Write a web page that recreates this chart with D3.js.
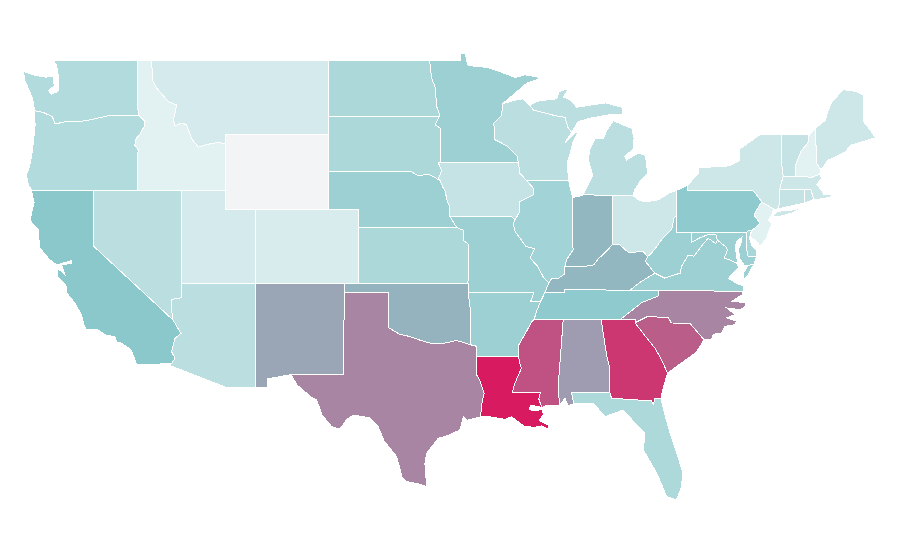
<!DOCTYPE html>
<html>
<head>
<meta charset="utf-8">
<style>
  body { margin: 0; background: #fff; }
  svg { display: block; }
  .state { stroke: #fff; stroke-width: 1; shape-rendering: crispEdges; }
</style>
<script src="https://cdn.jsdelivr.net/npm/d3@7"></script>
</head>
<body>
<svg id="map"></svg>
<script>
// state values (0 = palest, 100 = deepest red)
var stateNames = ["WA","OR","CA","NV","ID","MT","WY","UT","AZ","CO","NM","ND","SD","NE","KS","OK","TX","MN","IA","MO","AR","LA","WI","IL","MS","MI","IN","KY","TN","AL","FL","GA","SC","NC","VA","WV","OH","PA","MD","DE","NJ","NY","CT","RI","MA","VT","NH","ME"];
var stateValues = [31,31,50,27,8,15,0,15,27,13,60,34,34,42,34,56,69,42,22,42,42,100,27,39,84,27,55,55,48,63,33,92,81,69,42,42,18,48,42,36,8,18,22,22,18,22,8,18];

var colorStops = [0, 8, 50, 100];
var colorRange = ["#f3f4f6", "#e2f1f2", "#8bc8cc", "#d81b60"];

// shared borders, lon/lat
var snake = [[-117.03,43.83],[-116.95,44.15],[-117.2,44.4],[-117.1,44.75],[-116.85,45.0],[-116.56,45.4],[-116.5,45.67],[-116.84,45.94],[-116.92,46.0]];
var columbia = [[-116.92,46.0],[-118.98,46.0],[-119.3,45.93],[-120.03,45.8],[-120.5,45.72],[-121.2,45.65],[-121.93,45.66],[-122.6,45.54],[-122.78,45.93],[-123.4,46.17],[-123.85,46.24],[-124.0,46.27]];
var idMt = [[-111.05,44.48],[-111.54,44.55],[-112.32,44.44],[-112.89,44.3],[-113.35,44.75],[-113.68,45.49],[-114.0,45.6],[-114.47,45.43],[-114.58,45.76],[-114.35,46.57],[-114.92,46.75],[-115.7,47.47],[-116.0,47.92],[-116.05,49]];
var redA = [[-97.23,49],[-97.08,48.0],[-96.85,47.55],[-96.74,46.47],[-96.58,46.12],[-96.58,45.94]];
var redB = [[-96.58,45.94],[-96.86,45.49],[-96.45,45.3],[-96.45,43.5]];
var sdIa = [[-96.45,43.5],[-96.63,43.45],[-96.4,43.05],[-96.63,42.6],[-96.5,42.5]];
var neTop = [[-104.05,43],[-98.5,43],[-98.0,42.78],[-97.3,42.85],[-96.8,42.65],[-96.5,42.5]];
var moUpper = [[-96.5,42.5],[-96.35,42.2],[-96.18,41.97],[-96.05,41.5],[-95.85,41.07],[-95.85,40.6]];
var moMid = [[-95.85,40.6],[-95.38,40]];
var moLower = [[-95.38,40],[-94.94,39.85],[-94.94,39.3],[-94.6,39.1]];
var missMnWi = [[-92.8,44.7],[-91.99,44.37],[-91.3,43.84],[-91.22,43.5]];
var missIaWi = [[-91.22,43.5],[-91.1,42.9],[-90.64,42.51]];
var missIaIl = [[-90.64,42.51],[-90.2,42.12],[-90.2,41.75],[-91.1,41.39],[-91.1,40.9],[-91.43,40.4]];
var missMoIl = [[-91.43,40.4],[-91.55,40.2],[-91.44,39.8],[-90.7,38.98],[-90.1,38.85],[-90.42,38.35],[-89.95,37.95],[-89.5,37.3],[-89.15,37.0]];
var mnWi = [[-92.8,44.7],[-92.8,45.3],[-92.9,45.56],[-92.33,46.0],[-92.29,46.65]];
var wiMi = [[-87.6,45.1],[-87.85,45.35],[-88.05,45.9],[-88.72,45.99],[-90.2,46.3],[-90.45,46.57]];
var ohioWv = [[-80.52,40.64],[-80.66,40.52],[-80.82,39.9],[-81.5,39.35],[-81.85,38.95],[-82.2,38.6],[-82.45,38.43]];
var ohioKy = [[-82.45,38.43],[-82.75,38.7],[-83.75,38.65],[-84.35,39.07],[-84.82,39.1]];
var ohioIn = [[-84.82,39.1],[-85.2,38.75],[-85.8,38.3],[-86.1,37.98],[-86.7,37.9],[-87.25,37.9],[-88.05,37.9]];
var ohioLow = [[-88.05,37.9],[-88.05,37.5],[-88.5,37.25],[-88.95,37.25],[-89.15,37.0]];
var wabash = [[-87.53,39.35],[-87.5,38.8],[-87.95,38.25],[-88.05,37.9]];
var riverTn = [[-90.15,35],[-89.95,35.5],[-89.7,36.0],[-89.4,36.5]];
var missAr = [[-91.2,33.0],[-91.2,33.6],[-90.7,34.3],[-90.3,34.9],[-90.15,35]];
var missLa = [[-91.62,31],[-91.5,31.4],[-91.3,31.82],[-91.0,32.35],[-91.1,32.6],[-91.2,33.0]];
var redRiver = [[-100,34.56],[-99.23,34.2],[-98.55,34.08],[-97.87,33.88],[-97.1,33.7],[-96.3,33.7],[-95.4,33.87],[-94.48,33.64]];
var sabine = [[-94.04,33],[-94.04,32],[-93.8,31.65],[-93.52,30.98],[-93.7,30.35],[-93.76,29.66]];
var colNv = [[-114.04,36.2],[-114.7,36.1],[-114.7,35.6],[-114.63,35.0]];
var colCa = [[-114.63,35.0],[-114.47,34.8],[-114.07,34.25],[-114.47,33.98],[-114.7,33.25],[-114.47,32.9],[-114.72,32.6]];
var ncTn = [[-81.68,36.59],[-81.7,36.3],[-82.85,35.93],[-84.32,35.0]];
var kyVa = [[-83.67,36.6],[-82.9,37.07],[-81.97,37.53]];
var vaWv = [[-81.97,37.53],[-81.3,37.27],[-80.25,37.53],[-80.15,37.9],[-79.7,38.5],[-79.3,38.45],[-78.8,39.0],[-78.35,39.42],[-77.83,39.13]];
var gaSc = [[-83.3,34.83],[-82.85,34.35],[-81.95,33.44],[-81.5,32.8],[-81.1,32.08]];
var alGa = [[-85.6,35],[-85.35,33.7],[-85.18,32.87],[-85.0,32.3],[-85.05,31.5],[-85.0,31]];
var gaFl = [[-85.0,31],[-84.9,30.7],[-82.2,30.55],[-82.05,30.36],[-81.95,30.7],[-81.55,30.7]];
var ncSc = [[-83.3,34.83],[-82.5,35.16],[-81.05,35.13],[-80.85,34.82],[-79.58,34.8],[-78.63,33.9]];
var paNj = [[-75.42,39.8],[-74.84,40.24],[-75.25,40.67],[-74.8,41.31],[-74.7,41.36]];
var nyPa = [[-74.7,41.36],[-75.07,41.76],[-75.34,42]];
var ctNy = [[-73.65,41.0],[-73.5,41.3],[-73.5,42.05]];
var vtNh = [[-71.5,45],[-71.6,44.5],[-72.05,44.1],[-72.45,43.3],[-72.46,42.73]];
var nyVt = [[-73.27,42.75],[-73.4,43.6],[-73.35,45]];

function rev(arc) { return arc.slice().reverse(); }
function ring() { return [].concat.apply([], arguments); }

var WA = ring([[-122.76,49],[-117.03,49],[-117.04,46.42],[-116.92,46.17]], columbia, [[-124.05,46.7],[-124.15,46.95],[-124.35,47.35],[-124.65,47.9],[-124.73,48.38],[-124.1,48.2],[-123.2,48.07],[-122.75,48.15],[-122.65,47.6],[-123.05,47.35],[-122.85,47.15],[-122.4,47.3],[-122.35,47.7],[-122.4,48.25],[-122.5,48.75]]);
var OR = ring(rev(columbia), rev(snake), [[-117.03,42],[-124.2,42],[-124.4,42.3],[-124.55,42.84],[-124.35,43.2],[-124.15,44.0],[-124.05,44.7],[-123.95,45.5]]);
var CA = ring([[-124.2,42],[-120,42],[-120,39]], colCa, [[-117.07,32.55],[-117.25,32.95],[-117.44,33.35],[-118.1,33.72],[-118.4,33.78],[-118.55,34.07],[-119.2,34.17],[-119.7,34.44],[-120.5,34.47],[-120.6,34.62],[-120.8,35.25],[-121.25,35.9],[-121.8,36.45],[-121.8,36.8],[-122.42,37.34],[-122.42,37.8],[-121.93,37.44],[-122.15,37.98],[-121.5,38.07],[-121.5,38.2],[-122.5,37.98],[-122.95,38.25],[-123.64,38.9],[-123.75,39.9],[-124.3,40.38],[-124.02,41.35]]);
var NV = ring([[-120,42],[-114.04,42]], colNv, [[-120,39]]);
var ID = ring([[-117.03,49],[-116.05,49]], rev(idMt), [[-111.05,42],[-117.03,42]], snake, [[-116.92,46.17],[-117.04,46.42]]);
var MT = ring([[-116.05,49],[-104.05,49],[-104.05,45],[-111.05,45]], idMt);
var WY = ring([[-111.05,45],[-104.05,45],[-104.05,41],[-111.05,41]]);
var UT = ring([[-114.04,42],[-111.05,42],[-111.05,41],[-109.05,41],[-109.05,37],[-114.04,37]]);
var AZ = ring([[-114.04,37],[-109.05,37],[-109.05,31.33],[-111.07,31.33],[-114.81,32.5]], rev(colCa), rev(colNv));
var CO = ring([[-109.05,41],[-102.05,41],[-102.05,37],[-109.05,37]]);
var NM = ring([[-109.05,37],[-103,37],[-103,36.5],[-103.06,32],[-106.62,32],[-108.2,31.78],[-108.2,31.33],[-109.05,31.33]]);
var ND = ring([[-104.05,49]], redA, [[-104.05,45.94]]);
var SD = ring([[-104.05,45.94]], redB, sdIa, rev(neTop));
var NE = ring(neTop, moUpper, moMid, [[-102.05,40],[-102.05,41],[-104.05,41]]);
var KS = ring([[-102.05,40]], moLower, [[-94.62,37],[-102.05,37]]);
var OK = ring([[-103,37],[-94.62,37],[-94.62,36.5],[-94.43,35.4]], rev(redRiver), [[-100,36.5],[-103,36.5]]);
var TX = ring([[-103,36.5],[-100,36.5]], redRiver, [[-94.04,33.55]], sabine, [[-94.7,29.47],[-94.94,29.66],[-95.17,28.92],[-96.18,28.55],[-96.63,28.46],[-97.42,27.62],[-97.54,27.06],[-97.42,25.75],[-98.1,25.93],[-98.77,26.03],[-99.1,26.31],[-99.45,27.43],[-100.3,28.3],[-100.7,29.1],[-101.26,29.6],[-102.4,29.76],[-102.85,29.5],[-103.29,28.98],[-103.85,29.1],[-104.5,29.75],[-104.7,30.2],[-104.87,30.6],[-105.3,30.8],[-106.2,31.44],[-106.62,32],[-103.06,32]]);
var MN = ring(redA, redB, [[-91.22,43.5]], rev(missMnWi), mnWi, [[-92.1,46.75],[-90.65,47.74],[-89.75,48.0],[-90.0,48.1],[-90.8,48.2],[-91.4,48.05],[-92.45,48.37],[-93.3,48.6],[-94.6,48.7],[-94.7,48.9],[-94.8,49.33],[-95.15,49.38],[-95.15,49]]);
var IA = ring([[-96.45,43.5]], missIaWi, missIaIl, [[-91.7,40.6]], rev(moUpper), rev(sdIa));
var MO = ring([[-95.85,40.6],[-91.7,40.6]], missMoIl, [[-89.4,36.5],[-89.7,36.0],[-90.37,36.0],[-90.15,36.5],[-94.62,36.5],[-94.62,37]], rev(moLower), rev(moMid));
var AR = ring([[-94.62,36.5],[-90.15,36.5],[-90.37,36.0]], rev(riverTn).slice(1), rev(missAr), [[-94.04,33],[-94.04,33.55],[-94.48,33.64],[-94.43,35.4]]);
var LA = ring([[-94.04,33]], rev(missLa), [[-89.73,31],[-89.82,30.65],[-89.62,30.18],[-89.9,30.25],[-90.4,30.3],[-90.45,30.05],[-89.95,30.0],[-89.6,30.1],[-89.52,29.8],[-89.79,29.44],[-89.18,29.2],[-89.13,28.96],[-89.63,29.15],[-90.08,29.08],[-90.76,29.1],[-91.21,29.38],[-91.66,29.66],[-92.11,29.52],[-93.13,29.66]], rev(sabine));
var WI = ring([[-90.64,42.51],[-87.8,42.5],[-87.9,43.44],[-87.6,44.25],[-87.5,44.6],[-87.05,45.25],[-87.6,44.9],[-88.05,44.55]], wiMi, [[-90.87,46.9],[-91.2,46.87],[-92.0,46.7]], rev(mnWi), missMnWi, missIaWi);
var IL = ring([[-90.64,42.51],[-87.8,42.5],[-87.53,41.62]], wabash, ohioLow, rev(missMoIl), rev(missIaIl));
var MS = ring([[-90.15,35],[-88.17,35],[-88.5,31.5],[-88.43,30.3],[-89.3,30.3],[-89.62,30.18],[-89.82,30.65],[-89.73,31]], missLa, missAr);
var MIupper = ring(wiMi, [[-89.8,46.8],[-88.6,46.9],[-88.45,47.3],[-87.8,47.45],[-88.15,47.0],[-87.7,46.84],[-87.25,46.45],[-85.3,46.68],[-84.2,46.45],[-84.1,46.03],[-85.0,46.05],[-86.35,45.85],[-87.15,45.67],[-87.5,45.22]]);
var MIlower = [[-84.78,45.72],[-85.2,45.22],[-85.45,44.77],[-86.0,44.77],[-86.35,44.24],[-86.47,43.62],[-86.17,42.8],[-86.58,42.15],[-86.82,41.76],[-84.8,41.72],[-83.45,41.72],[-83.3,42.05],[-82.97,42.46],[-82.45,42.9],[-82.6,43.85],[-83.08,43.98],[-83.87,43.62],[-84.0,43.8],[-83.43,44.2],[-83.37,44.77],[-83.52,45.3]];
var IsleRoyale = [[-89.13,47.85],[-88.66,48.1],[-88.75,48.0]];
var IN = ring([[-87.53,41.62],[-87.1,41.68],[-86.82,41.76],[-84.8,41.72]], ohioIn, rev(wabash));
var KY = ring(ohioKy, ohioIn, ohioLow, [[-89.4,36.5],[-88.07,36.5],[-88.07,36.65]], kyVa, [[-82.6,38.17]]);
var TN = ring([[-89.4,36.5],[-88.07,36.5],[-88.07,36.65],[-83.67,36.6]], ncTn, [[-85.6,35],[-88.17,35]], riverTn);
var AL = ring([[-88.17,35]], alGa, [[-87.6,31],[-87.45,30.4],[-87.83,30.27],[-88.05,30.7],[-88.43,30.3],[-88.5,31.5]]);
var FL = ring([[-87.6,31]], gaFl, [[-81.35,30.0],[-80.93,28.74],[-80.07,26.58],[-80.15,25.75],[-80.5,25.0],[-81.16,25.19],[-81.83,26.5],[-82.74,27.8],[-82.63,28.74],[-83.3,29.3],[-84.1,30.04],[-85.34,29.67],[-86.1,30.4],[-87.45,30.4]]);
var GA = ring(alGa, gaFl.slice(1), [[-81.4,31.25]], rev(gaSc), [[-83.3,35],[-84.32,35]]);
var SC = ring(ncSc, [[-79.13,33.25],[-79.7,32.9],[-80.37,32.53]], rev(gaSc));
var NC = ring([[-81.68,36.59],[-75.98,36.55],[-76.01,36.37],[-76.75,36.01],[-75.85,35.92],[-75.81,35.73],[-76.19,35.55],[-77.09,35.64],[-76.53,35.28],[-77.09,35.1],[-76.42,34.92],[-76.53,34.73],[-77.21,34.64],[-77.43,34.28],[-78.0,34.2],[-78.11,33.93]], rev(ncSc), [[-83.3,35]], rev(ncTn));
var VA = ring(kyVa, vaWv, [[-77.72,39.32],[-77.12,38.93],[-77.04,38.79],[-77.25,38.35],[-76.9,38.25],[-76.35,38.05],[-76.3,37.8],[-76.98,37.25],[-76.3,36.93],[-75.98,36.86],[-75.98,36.55],[-81.68,36.59]]);
var VAshore = [[-75.65,37.95],[-75.25,38.03],[-75.6,37.5],[-75.96,37.12],[-75.98,37.5]];
var WV = ring(ohioWv, [[-82.6,38.17]], vaWv, [[-77.72,39.32],[-77.83,39.62],[-78.3,39.63],[-78.9,39.45],[-79.48,39.2],[-79.48,39.72],[-80.52,39.72]]);
var OH = ring([[-84.8,41.72],[-83.45,41.72],[-83.0,41.45],[-82.5,41.38],[-81.7,41.5],[-81.0,41.85],[-80.52,41.98]], ohioWv, ohioKy);
var PA = ring([[-80.52,41.98],[-79.76,42.27],[-79.76,42]], rev(nyPa), rev(paNj), [[-75.78,39.72],[-80.52,39.72]]);
var MD = ring([[-79.48,39.72],[-75.78,39.72],[-75.7,38.46],[-75.05,38.45],[-75.25,38.03],[-75.65,37.95],[-75.9,37.95],[-76.2,38.3],[-76.3,38.8],[-76.1,39.2],[-76.05,39.5],[-76.45,39.2],[-76.5,38.9],[-76.4,38.3],[-76.35,38.05],[-76.9,38.25],[-77.25,38.35],[-77.04,38.79],[-77.12,38.93],[-77.72,39.32],[-77.83,39.62],[-78.3,39.63],[-78.9,39.45],[-79.48,39.2]]);
var DE = [[-75.78,39.72],[-75.6,39.84],[-75.42,39.8],[-75.55,39.45],[-75.4,39.05],[-75.1,38.8],[-75.05,38.45],[-75.7,38.46]];
var NJ = ring(paNj, [[-73.9,41.0],[-74.05,40.65],[-74.3,40.4],[-74.04,40.22],[-74.4,39.4],[-74.85,38.95],[-75.0,39.2],[-75.5,39.5]]);
var NY = ring([[-79.76,42.27],[-79,42.9],[-79,43.2],[-76.9,43.3],[-76.2,43.6],[-76.2,44.2],[-75.07,44.84],[-74.7,45],[-73.35,45]], rev(nyVt), [[-73.5,42.05]], rev(ctNy), [[-73.9,41.0],[-74.7,41.36]], nyPa, [[-79.76,42]]);
var LongIsland = [[-73.95,40.6],[-73.7,40.87],[-72.6,40.95],[-72.0,41.05],[-72.6,40.8],[-73.6,40.58]];
var CT = ring(ctNy, [[-71.8,42.02],[-71.85,41.32]]);
var RI = [[-71.8,42.02],[-71.38,42.02],[-71.2,41.5],[-71.85,41.32]];
var MA = [[-73.5,42.05],[-73.27,42.75],[-72.46,42.73],[-71.3,42.7],[-70.8,42.85],[-70.65,42.65],[-71.0,42.3],[-70.6,41.95],[-70.55,41.8],[-70.05,41.8],[-70.0,41.65],[-70.6,41.55],[-71.2,41.5],[-71.38,42.02],[-71.8,42.02]];
var VT = ring(vtNh, [[-73.27,42.75]], nyVt);
var NH = ring([[-71.5,45],[-71.1,45.3],[-70.98,43.4],[-70.7,43.08],[-70.8,42.85],[-71.3,42.7]], rev(vtNh));
var ME = [[-71.1,45.3],[-70.4,45.75],[-70.25,46.2],[-70.0,46.7],[-69.2,47.4],[-68.35,47.3],[-67.83,47.1],[-67.83,45.67],[-67.45,45.3],[-67.0,44.8],[-68.7,44.4],[-69.05,44.05],[-69.8,43.75],[-70.25,43.6],[-70.7,43.08],[-70.98,43.4]];

var stateRings = {WA:[WA],OR:[OR],CA:[CA],NV:[NV],ID:[ID],MT:[MT],WY:[WY],UT:[UT],AZ:[AZ],CO:[CO],NM:[NM],ND:[ND],SD:[SD],NE:[NE],KS:[KS],OK:[OK],TX:[TX],MN:[MN],IA:[IA],MO:[MO],AR:[AR],LA:[LA],WI:[WI],IL:[IL],MS:[MS],MI:[MIupper,MIlower,IsleRoyale],IN:[IN],KY:[KY],TN:[TN],AL:[AL],FL:[FL],GA:[GA],SC:[SC],NC:[NC],VA:[VA,VAshore],WV:[WV],OH:[OH],PA:[PA],MD:[MD],DE:[DE],NJ:[NJ],NY:[NY,LongIsland],CT:[CT],RI:[RI],MA:[MA],VT:[VT],NH:[NH],ME:[ME]};

var width = 900, height = 560;

var x = d3.scaleLinear().domain([-125, -65]).range([19.6, 905.2]);
var y = d3.scaleLinear().domain([49, 45, 41, 37, 31.33, 25]).range([60, 134, 209, 283, 387, 500]);
var color = d3.scaleLinear().domain(colorStops).range(colorRange);

var path = d3.geoPath(d3.geoTransform({
  point: function(lon, lat) { this.stream.point(x(lon), y(lat)); }
}));

var features = stateNames.map(function(name, i) {
  return {
    type: "Feature",
    properties: { name: name, value: stateValues[i] },
    geometry: { type: "MultiPolygon", coordinates: stateRings[name].map(function(r) { return [r.concat([r[0]])]; }) }
  };
});

var svg = d3.select("#map").attr("width", width).attr("height", height);

svg.append("g").selectAll("path")
    .data(features)
    .enter()
    .append("path")
      .attr("class", "state")
      .attr("d", path)
      .attr("fill", function(d) { return color(d.properties.value); });
</script>
</body>
</html>
